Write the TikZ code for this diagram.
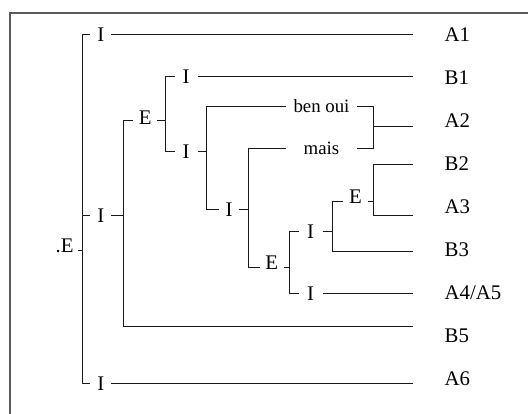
\documentclass[tikz,border=0pt]{standalone}
\usepackage{fontspec}
\setmainfont{Liberation Serif}
\begin{document}
\begin{tikzpicture}[x=1pt,y=-1pt,
  link/.style={line width=1pt, black!90},
  frame/.style={line width=2pt, black!65},
  lab/.style={font=\fontsize{20.8}{24}\selectfont, inner sep=0pt, text height=13.6pt, text depth=0pt},
  leaf/.style={lab, anchor=west},
  word/.style={font=\fontsize{18.8}{22}\selectfont, inner sep=0pt, minimum width=70.7pt, text height=12.8pt, text depth=0pt}
]
\useasboundingbox (0,0) rectangle (528,414);
% frame
\draw[frame] (10,414) -- (10,13) -- (528,13);

% right-hand column where the branches end
\coordinate (rt) at (412.5,0);

% leaf labels
\node[leaf] (A1) at (444.5,35) {A1};
\node[leaf] (B1) at (444.5,78) {B1};
\node[leaf] (A2) at (444.5,121) {A2};
\node[leaf] (B2) at (444.5,164) {B2};
\node[leaf] (A3) at (444.5,207) {A3};
\node[leaf] (B3) at (444.5,250) {B3};
\node[leaf] (A45) at (444.5,293) {A4/A5};
\node[leaf] (B5) at (444.5,336) {B5};
\node[leaf] (A6) at (444.5,379) {A6};

% inner labels
\node[lab, minimum width=20.3pt] (Ia) at (100.8,34.5) {I};
\node[lab, minimum width=20.3pt] (Ib) at (100.8,215.5) {I};
\node[lab, minimum width=20.3pt] (Ic) at (100.8,383.5) {I};
\node[lab, anchor=east, inner xsep=4.5pt] (Er) at (78.3,245.5) {.E};
\node[lab, minimum width=23.7pt] (Em) at (145.2,118) {E};
\node[lab, minimum width=23pt] (Id) at (186.2,76.5) {I};
\node[lab, minimum width=22.8pt] (Ie) at (186.1,151.5) {I};
\node[lab, minimum width=19.7pt] (If) at (229.1,209.5) {I};
\node[lab, minimum width=23.3pt] (En) at (271.7,262.5) {E};
\node[lab, minimum width=23.3pt] (Ig) at (310.7,231.5) {I};
\node[lab, minimum width=23.3pt] (Ih) at (310.7,293.5) {I};
\node[lab, minimum width=24.4pt] (Eo) at (355.5,196.7) {E};
\node[word] (ben) at (321.5,106.5) {ben oui};
\node[word] (mais) at (321.5,148.5) {mais};

% root bracket
\coordinate (r1) at (82.5,34.5);
\coordinate (r2) at (82.5,383.5);
\coordinate (r0) at (82.5,250.5);
\draw[link] (Ia.west) -- (r1) -- (r2) -- (Ic.west);
\draw[link] (Ib.west) -- (Ib.west -| r1);
\draw[link] (r0) -- (r0 -| Er.east);
\draw[link] (Ia.east) -- (Ia.east -| rt);
\draw[link] (Ic.east) -- (Ic.east -| rt);

% second level
\coordinate (b1) at (123.5,120.5);
\coordinate (b2) at (123.5,326.5);
\draw[link] (Ib.east) -- (Ib.east -| b1);
\draw[link] (Em.west |- b1) -- (b1) -- (b2) -- (b2 -| rt);

\coordinate (c0) at (165.5,120.5);
\coordinate (c1) at (165.5,76.5);
\coordinate (c2) at (165.5,151.5);
\draw[link] (Em.east |- c0) -- (c0);
\draw[link] (Id.west) -- (c1) -- (c2) -- (Ie.west);
\draw[link] (Id.east) -- (Id.east -| rt);

\coordinate (d1) at (206.5,106.5);
\coordinate (d2) at (206.5,209.5);
\draw[link] (Ie.east) -- (Ie.east -| d1);
\draw[link] (ben.west) -- (d1) -- (d2) -- (If.west);

\coordinate (e1) at (248.5,148.5);
\coordinate (e2) at (248.5,267.5);
\draw[link] (If.east) -- (If.east -| e1);
\draw[link] (mais.west) -- (e1) -- (e2) -- (En.west |- e2);

% ben oui / mais joined towards A2
\coordinate (k1) at (373.5,106.5);
\coordinate (k2) at (373.5,148.5);
\coordinate (k0) at (373.5,126.5);
\draw[link] (ben.east) -- (k1) -- (k2) -- (mais.east);
\draw[link] (k0) -- (k0 -| rt);

\coordinate (f0) at (289.5,267.5);
\coordinate (f1) at (289.5,231.5);
\coordinate (f2) at (289.5,293.5);
\draw[link] (En.east |- f0) -- (f0);
\draw[link] (Ig.west) -- (f1) -- (f2) -- (Ih.west);
\draw[link] (Ih.east) -- (Ih.east -| rt);

\coordinate (g1) at (332.5,201.5);
\coordinate (g2) at (332.5,251.5);
\draw[link] (Ig.east) -- (Ig.east -| g1);
\draw[link] (Eo.west |- g1) -- (g1) -- (g2) -- (g2 -| rt);

\coordinate (h0) at (373.5,201.5);
\coordinate (h1) at (373.5,164.5);
\coordinate (h2) at (373.5,215.5);
\draw[link] (Eo.east |- h0) -- (h0);
\draw[link] (rt |- h1) -- (h1) -- (h2) -- (rt |- h2);
\end{tikzpicture}
\end{document}
